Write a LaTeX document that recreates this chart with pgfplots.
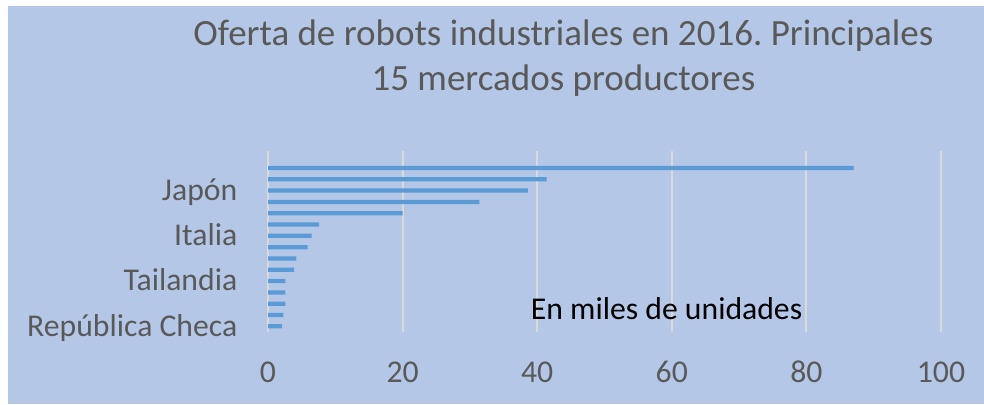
\documentclass[border=0pt]{standalone}
\usepackage{pgfplots}
\pgfplotsset{compat=1.18}
\usepackage{fontspec}
\setmainfont{Carlito}
\frenchspacing
\definecolor{bgblue}{HTML}{B4C7E7}
\definecolor{barblue}{HTML}{5B9BD5}
\definecolor{gridgray}{HTML}{D9D9D9}
\definecolor{txtgray}{HTML}{595959}
\begin{document}
\begin{tikzpicture}
\fill[white] (0,0) rectangle (984bp,405bp);
\fill[bgblue] (8bp,1bp) rectangle (984bp,399bp);
\begin{axis}[
  at={(268bp,73bp)}, anchor=south west,
  scale only axis,
  width=673bp, height=181bp,
  xmin=0, xmax=100, ymin=0.5, ymax=16.5,
  xbar, bar width=4.3bp, bar shift=0pt,
  xtick={0,20,40,60,80,100},
  ytick={1,5,9,13},
  yticklabels={República Checa, Tailandia, Italia, Japón},
  major tick length=0pt,
  axis line style={draw=none},
  xmajorgrids, grid style={gridgray, line width=2bp},
  /pgf/number format/assume math mode=true,
  tick label style={font=\fontsize{31.7bp}{38bp}\selectfont, text=txtgray},
  xticklabel style={anchor=base, inner sep=0pt, yshift=-50.7bp},
  yticklabel style={anchor=base east, inner sep=0pt, xshift=-30.5bp, yshift=-9.7bp},
]
\addplot[draw=none, fill=barblue] coordinates {
  (2.1,1)   % República Checa
  (2.3,2)
  (2.6,3)
  (2.6,4)
  (2.6,5)   % Tailandia
  (3.9,6)
  (4.2,7)
  (5.9,8)
  (6.5,9)   % Italia
  (7.6,10)
  (20.0,11)
  (31.4,12)
  (38.6,13) % Japón
  (41.4,14)
  (87.0,15)
};
\end{axis}
\node[anchor=base, inner sep=0pt, text=txtgray, font=\fontsize{37bp}{44bp}\selectfont] at (563.4bp,359.3bp) {Oferta de robots industriales en 2016. Principales};
\node[anchor=base, inner sep=0pt, text=txtgray, font=\fontsize{37bp}{44bp}\selectfont] at (563.4bp,314.3bp) {15 mercados productores};
\node[anchor=base west, inner sep=0pt, text=black, font=\fontsize{31.7bp}{38bp}\selectfont] at (530.7bp,85.7bp) {En miles de unidades};
\pgfresetboundingbox
\path (0,0) rectangle (984bp,405bp);
\end{tikzpicture}
\end{document}
